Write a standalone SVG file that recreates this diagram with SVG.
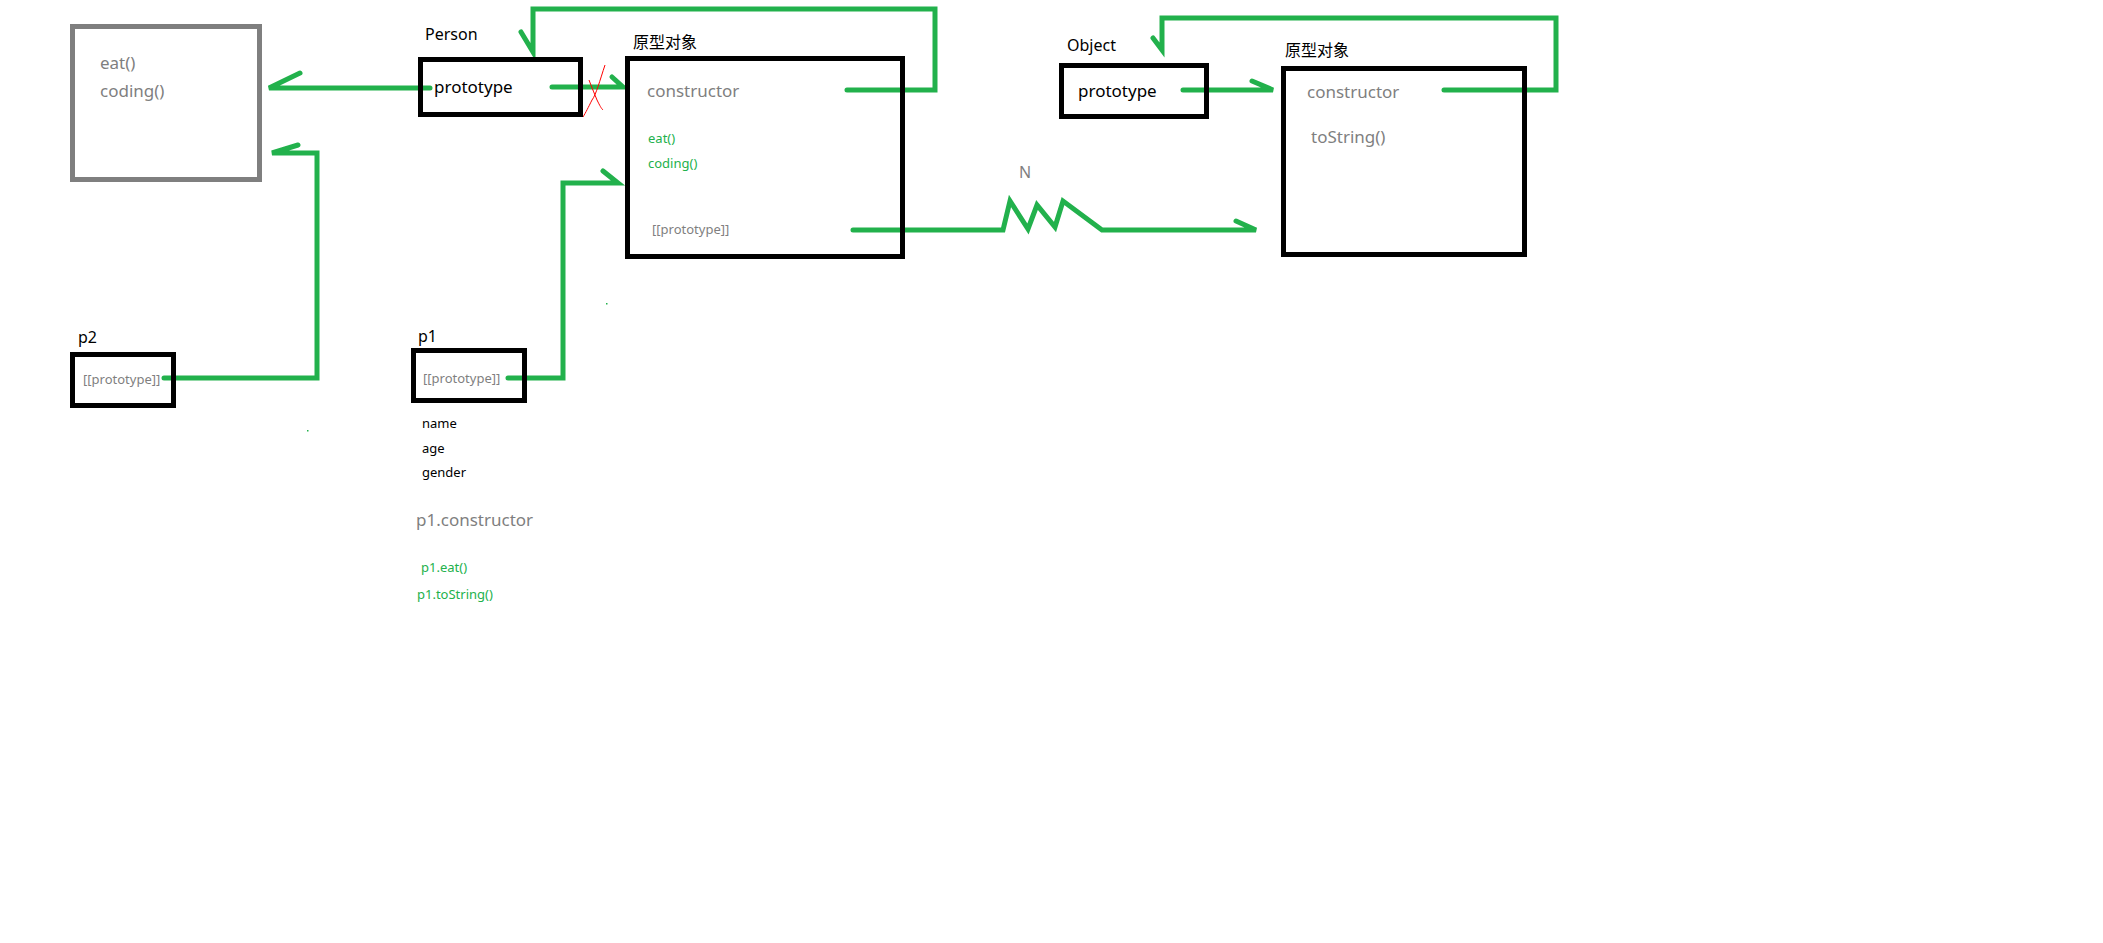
<svg xmlns="http://www.w3.org/2000/svg" width="2103" height="943" viewBox="0 0 2103 943">
<style>
.box{fill:none;stroke:#000;stroke-width:5}
.gbox{fill:none;stroke:#7f7f7f;stroke-width:5}
.c{fill:none;stroke:#22b14c;stroke-width:5;stroke-linecap:round;stroke-linejoin:miter}
text{font-family:"Noto Sans","Open Sans","Noto Sans CJK SC",sans-serif}
.lbl{font-size:16px;fill:#000}
.gr{font-size:17px;fill:#7f7f7f}
.blk{font-size:17px;fill:#000}
.sg{font-size:13px;fill:#22b14c}
.sgr{font-size:13px;fill:#7f7f7f}
.sb{font-size:13px;fill:#000}
.cjk{font-family:"Noto Sans CJK SC",sans-serif;font-size:16px;fill:#000}
</style>
<rect width="2103" height="943" fill="#fff"/>
<g id="connectors">
  <!-- Person.prototype -> gray box -->
  <path class="c" d="M430 88 H269 L300 73"/>
  <!-- p2 -> gray box -->
  <path class="c" d="M164 378 H317 V153 H272 L298 145"/>
  <!-- Person.prototype -> proto -->
  <path class="c" d="M552 87 H623 L612 77"/>
  <!-- proto constructor -> Person -->
  <path class="c" d="M847 90 H935 V9 H533 V52 L521 32"/>
  <!-- p1 -> proto -->
  <path class="c" d="M508 378 H563 V183 H618 L603 171"/>
  <!-- proto [[prototype]] -> Object proto (zigzag) -->
  <path class="c" d="M853 230 H1003 L1010 201 L1028 229 L1037 205 L1055 227 L1063 201 L1102 230 H1256 L1236 221"/>
  <!-- Object.prototype -> Object proto -->
  <path class="c" d="M1183 90 H1273 L1252 81"/>
  <!-- Object proto constructor -> Object -->
  <path class="c" d="M1444 90 H1556 V18 H1162 V50 L1153 38"/>
  <!-- red cross -->
  <path d="M605 65 C600 80 596 95 592 100 C588 108 586 112 583 117" fill="none" stroke="#ff0000" stroke-width="1"/>
  <path d="M589 80 C592 88 595 95 597 100 C600 106 601 108 603 110" fill="none" stroke="#ff0000" stroke-width="1"/>
  <rect x="606" y="303" width="1.5" height="1.5" fill="#22b14c"/>
  <rect x="307" y="430" width="1.5" height="1.5" fill="#22b14c"/>
</g>
<g id="gray-box">
  <rect class="gbox" x="72.5" y="26.5" width="187" height="153"/>
  <text class="gr" x="100" y="69">eat()</text>
  <text class="gr" x="100" y="97">coding()</text>
</g>
<g id="person">
  <text class="lbl" x="425" y="40">Person</text>
  <rect class="box" x="420.5" y="59.5" width="160" height="55"/>
  <text class="blk" x="434" y="93">prototype</text>
</g>
<g id="person-proto">
  <text class="cjk" x="633" y="48">原型对象</text>
  <rect class="box" x="627.5" y="58.5" width="275" height="198"/>
  <text class="gr" x="647" y="97">constructor</text>
  <text class="sg" x="648" y="143">eat()</text>
  <text class="sg" x="648" y="168">coding()</text>
  <text class="sgr" x="652" y="234">[[prototype]]</text>
</g>
<g id="object">
  <text class="lbl" x="1067" y="51">Object</text>
  <rect class="box" x="1061.5" y="65.5" width="145" height="51"/>
  <text class="blk" x="1078" y="97">prototype</text>
</g>
<g id="object-proto">
  <text class="cjk" x="1285" y="56">原型对象</text>
  <rect class="box" x="1283.5" y="68.5" width="241" height="186"/>
  <text class="gr" x="1307" y="98">constructor</text>
  <text class="gr" x="1311" y="143">toString()</text>
</g>
<g id="n-label">
  <text class="lbl" x="1019" y="178" fill="#7f7f7f" style="fill:#7f7f7f">N</text>
</g>
<g id="p2">
  <text class="lbl" x="78" y="343">p2</text>
  <rect class="box" x="72.5" y="354.5" width="101" height="51"/>
  <text class="sgr" x="83" y="384">[[prototype]]</text>
</g>
<g id="p1">
  <text class="lbl" x="418" y="342">p1</text>
  <rect class="box" x="413.5" y="350.5" width="111" height="50"/>
  <text class="sgr" x="423" y="383">[[prototype]]</text>
  <text class="sb" x="422" y="428">name</text>
  <text class="sb" x="422" y="453">age</text>
  <text class="sb" x="422" y="477">gender</text>
  <text class="gr" x="416" y="526">p1.constructor</text>
  <text class="sg" x="421" y="572">p1.eat()</text>
  <text class="sg" x="417" y="599">p1.toString()</text>
</g>
</svg>
